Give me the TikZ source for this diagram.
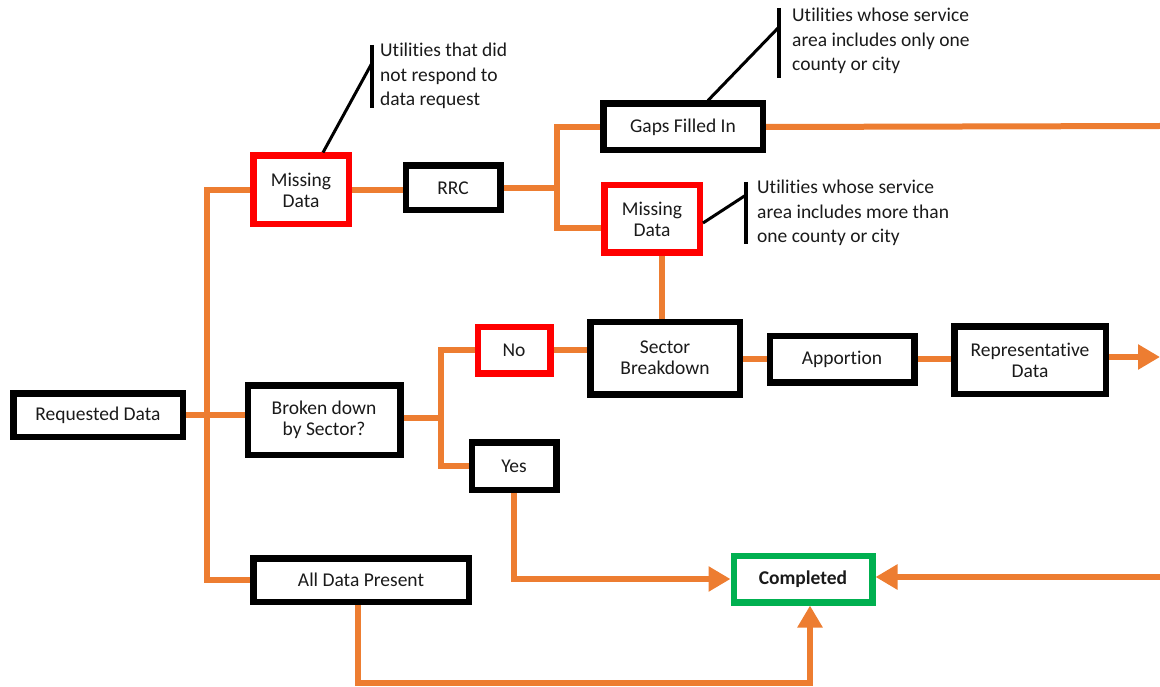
\documentclass[tikz,border=0pt]{standalone}
\usepackage{fontspec}
\setmainfont{Carlito}[Ligatures={NoCommon,TeX}]
\usetikzlibrary{arrows.meta}
\definecolor{ora}{HTML}{ED7D31}
\definecolor{redb}{HTML}{FF0000}
\definecolor{grn}{HTML}{00B050}
\definecolor{txt}{HTML}{1A1A1A}
\begin{document}
\begin{tikzpicture}[x=1pt,y=-1pt,
  bx/.style={draw=black,line width=6.5pt,inner sep=0pt,align=center,text=txt,
    font=\fontsize{19.5}{21}\selectfont},
  rbx/.style={bx,draw=redb},
  gbx/.style={bx,draw=grn},
  ol/.style={draw=ora,line width=6pt},
  arr/.style={-{Triangle[length=22pt,width=24pt]}},
  callout/.style={draw=black,line width=3pt},
  bar/.style={draw=black,line width=4pt},
  ctext/.style={anchor=west,align=left,inner sep=0pt,text=txt,
    font=\fontsize{19.5}{24.5}\selectfont}]
\useasboundingbox (0,0) rectangle (1160,687);

% boxes
\node[bx,minimum width=169.5pt,minimum height=43.5pt] (req) at (98,415) {Requested Data};
\node[rbx,minimum width=95.5pt,minimum height=68.5pt] (md1) at (301,190) {Missing\\Data};
\node[bx,minimum width=94.5pt,minimum height=44.5pt] (rrc) at (453,188) {RRC};
\node[bx,minimum width=159.5pt,minimum height=46.5pt] (gaps) at (683,127) {Gaps Filled In};
\node[rbx,minimum width=95.5pt,minimum height=67.5pt] (md2) at (652,219) {Missing\\Data};
\node[bx,minimum width=152.5pt,minimum height=69.5pt] (broken) at (324,420) {Broken down\\by Sector?};
\node[rbx,minimum width=72.5pt,minimum height=46.5pt] (no) at (514,350) {No};
\node[bx,minimum width=84.5pt,minimum height=47.5pt] (yes) at (514,466) {Yes};
\node[bx,minimum width=149.5pt,minimum height=72.5pt] (sector) at (665,358) {Sector\\Breakdown};
\node[bx,minimum width=144.5pt,minimum height=46.5pt] (apport) at (842,359) {Apportion};
\node[bx,minimum width=151.5pt,minimum height=67.5pt] (rep) at (1030,360) {Representative\\Data};
\node[bx,minimum width=215.5pt,minimum height=43.5pt] (alld) at (361,580) {All Data Present};
\node[gbx,minimum width=138.5pt,minimum height=46.5pt] (comp) at (803,579) {\bfseries Completed};

% junction coordinates
\coordinate (j1) at (207,190);
\coordinate (j2) at (557,188);
\coordinate (j2b) at (557,228);
\coordinate (j3) at (441,418);
\coordinate (j5) at (810,683);
\coordinate (e1) at (1160,126);
\coordinate (e2) at (1160,357);
\coordinate (e3) at (1160,577);

% orange connectors
\draw[ol] (md1.west) -- (j1) |- (alld.west);
\draw[ol] (req.east) -- (req.east -| broken.west);
\draw[ol] (md1.east) -- (md1.east -| rrc.west);
\draw[ol] (rrc.east) -- (j2);
\draw[ol] (gaps.west) -| (j2b) -- (j2b -| md2.west);
\draw[ol] (gaps.east) -- (e1);
\draw[ol] ([xshift=10pt]md2.south) -- ([xshift=10pt]md2.south |- sector.north);
\draw[ol] (broken.east |- j3) -- (j3);
\draw[ol] (no.west) -| (j3) |- (yes.west);
\draw[ol] (no.east) -- (no.east -| sector.west);
\draw[ol] (apport.west -| sector.east) -- (apport.west);
\draw[ol] (apport.east) -- (apport.east -| rep.west);
\draw[ol,arr] (rep.east |- e2) -- (e2);
\draw[ol,arr] (yes.south) |- (comp.west);
\draw[ol,arr] ([xshift=-3pt]alld.south) |- (j5) -- ([xshift=7pt]comp.south);
\draw[ol,arr] (e3) -- (comp.east |- e3);

% callouts
\coordinate (c1) at (372,63);
\coordinate (c2) at (779,27);
\coordinate (c3) at (746,195);
\draw[bar] (372,45) -- (372,108);
\draw[callout] ([xshift=22pt]md1.north) -- (c1);
\node[ctext] (t1) at (380,76) {Utilities that did\\not respond to\\data request};
\draw[bar] (779,8) -- (779,78);
\draw[callout] ([xshift=25pt]gaps.north) -- (c2);
\draw[callout] ([yshift=-4pt]md2.east) -- (c3);
\node[ctext] (t2) at (792,41) {Utilities whose service\\area includes only one\\county or city};
\draw[bar] (746,182) -- (746,244);
\node[ctext] (t3) at (757,213) {Utilities whose service\\area includes more than\\one county or city};
\end{tikzpicture}
\end{document}
